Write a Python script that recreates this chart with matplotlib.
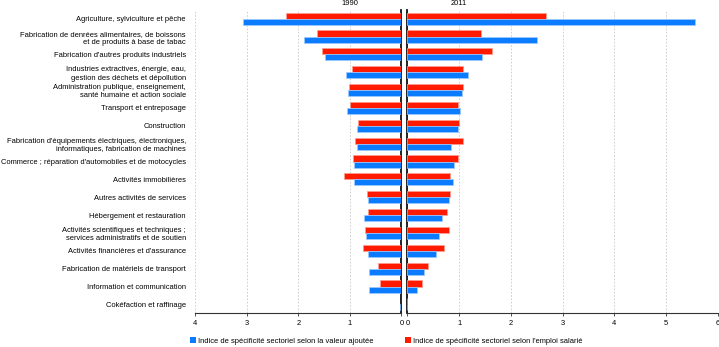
import numpy as np
import matplotlib
matplotlib.use('Agg')
import matplotlib.pyplot as plt
from matplotlib.patches import Patch

plt.rcParams['font.family'] = ['Liberation Sans', 'DejaVu Sans']

#  Sectors (top to bottom)
sectors = ['Agriculture, sylviculture et pêche',
           'Fabrication de denrées alimentaires, de boissons\net de produits à base de tabac',
           "Fabrication d'autres produits industriels",
           'Industries extractives, énergie, eau,\ngestion des déchets et dépollution',
           'Administration publique, enseignement,\nsanté humaine et action sociale',
           'Transport et entreposage',
           'Construction',
           "Fabrication d'équipements électriques, électroniques,\ninformatiques, fabrication de machines",
           "Commerce ; réparation d'automobiles et de motocycles",
           'Activités immobilières',
           'Autres activités de services',
           'Hébergement et restauration',
           'Activités scientifiques et techniques ;\nservices administratifs et de soutien',
           "Activités financières et d'assurance",
           'Fabrication de matériels de transport',
           'Information et communication',
           'Cokéfaction et raffinage']

#  Index selon la valeur ajoutee (blue) and l'emploi salarie (red)
va_1990 = [3.07, 1.89, 1.48, 1.07, 1.03, 1.05, 0.87, 0.86, 0.92, 0.92,
           0.65, 0.72, 0.68, 0.65, 0.63, 0.63, 0.03]
emp_1990 = [2.23, 1.63, 1.54, 0.96, 1.01, 0.99, 0.84, 0.90, 0.94, 1.11,
            0.66, 0.64, 0.70, 0.74, 0.46, 0.41, 0.0]
va_2011 = [5.55, 2.51, 1.45, 1.17, 1.06, 1.02, 0.97, 0.85, 0.90, 0.88,
           0.80, 0.67, 0.61, 0.56, 0.33, 0.19, 0.0]
emp_2011 = [2.68, 1.43, 1.63, 1.08, 1.08, 0.97, 1.00, 1.07, 0.97, 0.82,
            0.82, 0.76, 0.80, 0.70, 0.39, 0.29, 0.0]

years = ['1990', '2011']
legend_labels = ['Indice de spécificité sectoriel selon la valeur ajoutée',
                 "Indice de spécificité sectoriel selon l'emploi salarié"]

blue = '#0b7bff'
red = '#ff1a00'
fontsize = 5.4

fig = plt.figure(figsize=(7.19, 3.47), dpi=100)

ax1 = fig.add_axes([0.2712, 0.0971, 0.2872, 0.8747])
ax2 = fig.add_axes([0.5665, 0.0971, 0.4321, 0.8747])

y = np.arange(len(sectors))
h = 0.34

for ax, va, emp, xlim, year in [(ax1, va_1990, emp_1990, (4, 0), years[0]),
                                (ax2, va_2011, emp_2011, (0, 6), years[1])]:
    ax.barh(y - h / 2, emp, height=h, color=red, edgecolor='#ff9c90',
            linewidth=0.5, zorder=3)
    ax.barh(y + h / 2, va, height=h, color=blue, edgecolor='#9fcbff',
            linewidth=0.5, zorder=3)
    ax.set_xlim(*xlim)
    ax.set_ylim(len(sectors) - 0.5, -0.5)
    ax.set_xticks(range(min(xlim), max(xlim) + 1))
    ax.grid(axis='x', color='#c8c8c8', linestyle=(0, (2, 2)), linewidth=0.6,
            zorder=0)
    ax.tick_params(axis='x', labelsize=fontsize, length=2, width=0.6,
                   color='#333333', pad=3)
    ax.tick_params(axis='y', length=0)
    ax.spines['top'].set_visible(False)
    ax.spines['bottom'].set_linewidth(0.8)
    ax.spines['bottom'].set_color('#333333')
    #  Year label above the panel, at x = 1
    t = ax.text(1, -0.83, year, ha='center', va='center', fontsize=fontsize)
    t.set_clip_on(False)

#  Left panel: zero line on the right
ax1.spines['left'].set_visible(False)
ax1.spines['right'].set_linewidth(1.3)
ax1.spines['right'].set_color('#111111')
ax1.set_yticks(y)
ax1.set_yticklabels(sectors, fontsize=fontsize)
ax1.tick_params(axis='y', pad=6.5)
for lab in ax1.get_yticklabels():
    lab.set_linespacing(1.25)

#  Right panel: zero line on the left
ax2.spines['right'].set_visible(False)
ax2.spines['left'].set_linewidth(1.3)
ax2.spines['left'].set_color('#111111')
ax2.set_yticks([])

#  Legend
p_blue = Patch(facecolor=blue, edgecolor='none', label=legend_labels[0])
p_red = Patch(facecolor=red, edgecolor='none', label=legend_labels[1])
for handle, xpos in [(p_blue, 190 / 719), (p_red, 405 / 719)]:
    fig.legend(handles=[handle], loc='center left',
               bbox_to_anchor=(xpos, 1 - 341 / 347), frameon=False,
               fontsize=fontsize, handlelength=0.75, handleheight=0.75,
               handletextpad=0.35, borderpad=0, borderaxespad=0)

plt.savefig('out.png', dpi=100)
plt.close()
